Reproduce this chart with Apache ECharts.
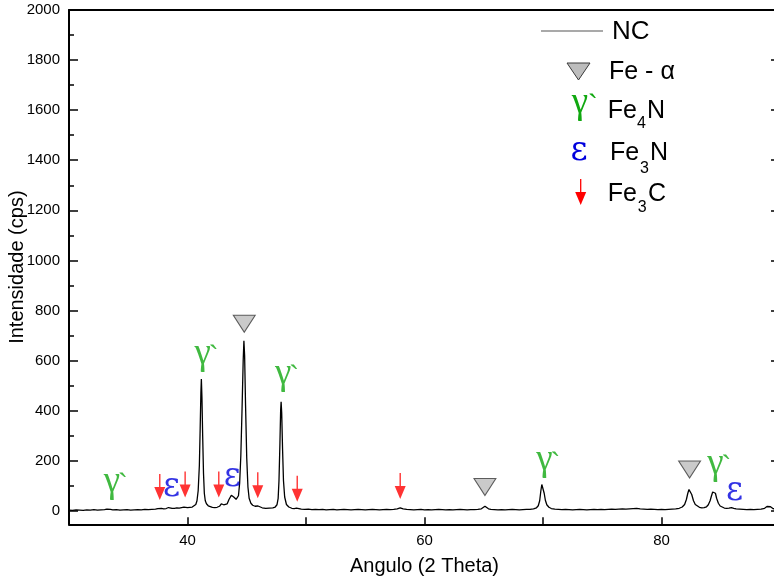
<!DOCTYPE html>
<html>
<head>
<meta charset="utf-8">
<script src="https://cdn.jsdelivr.net/npm/echarts@6/dist/echarts.min.js"></script>
<style>
html,body{margin:0;padding:0;background:#ffffff;}
#chart{width:774px;height:578px;}
</style>
</head>
<body>
<div id="chart"></div>
<script>
// ---- data ----
const twoTheta = [
30.0,30.3,30.6,30.9,31.2,31.5,31.8,32.1,32.4,32.7,33.0,33.2,33.35,33.5,33.7,34.0,34.3,34.6,34.9,35.2,35.5,35.8,36.1,36.4,36.7,37.0,37.3,37.5,37.65,37.8,38.0,38.2,38.4,38.55,38.7,38.9,39.1,39.3,39.5,39.7,39.85,40.0,40.2,40.4,40.55,40.7,40.8,40.9,41.0,41.07,41.13,41.17,41.22,41.28,41.35,41.42,41.5,41.6,41.75,41.9,42.1,42.3,42.5,42.7,42.85,42.95,43.05,43.2,43.35,43.5,43.6,43.7,43.8,43.9,44.0,44.1,44.2,44.3,44.4,44.5,44.6,44.7,44.76,44.82,44.9,45.0,45.1,45.2,45.35,45.5,45.7,45.85,45.95,46.1,46.3,46.6,46.9,47.2,47.4,47.55,47.65,47.72,47.8,47.86,47.9,47.95,48.02,48.1,48.2,48.35,48.55,48.8,49.0,49.2,49.35,49.6,49.9,50.2,50.5,50.8,51.1,51.4,51.7,52.0,52.3,52.6,52.9,53.2,53.5,53.8,54.1,54.4,54.7,55.0,55.3,55.6,55.9,56.2,56.5,56.8,57.1,57.4,57.7,57.95,58.2,58.5,58.8,59.1,59.4,59.7,60.0,60.3,60.6,60.9,61.2,61.5,61.8,62.1,62.4,62.7,63.0,63.3,63.6,63.9,64.2,64.5,64.8,64.95,65.1,65.25,65.4,65.6,65.9,66.2,66.5,66.8,67.1,67.4,67.7,68.0,68.3,68.6,68.9,69.2,69.45,69.6,69.72,69.82,69.9,69.96,70.02,70.1,70.2,70.32,70.5,70.7,71.0,71.3,71.6,71.9,72.2,72.5,72.8,73.1,73.4,73.7,74.0,74.3,74.6,74.9,75.2,75.5,75.8,76.1,76.4,76.7,77.0,77.3,77.6,77.9,78.2,78.5,78.8,79.1,79.4,79.7,80.0,80.3,80.6,80.9,81.2,81.5,81.75,81.95,82.1,82.22,82.32,82.38,82.45,82.55,82.7,82.85,83.0,83.2,83.4,83.6,83.8,83.95,84.1,84.22,84.32,84.4,84.47,84.55,84.65,84.8,84.95,85.1,85.3,85.5,85.7,85.9,86.1,86.3,86.6,86.9,87.2,87.5,87.8,88.1,88.4,88.7,88.9,89.05,89.2,89.4,89.7,90.0
];
const intensity = [
3,2,4,3,2,4,3,5,3,4,5,7,10,6,4,5,3,4,5,3,4,5,4,6,5,6,7,9,14,10,8,9,13,14,10,10,12,11,13,15,16,13,14,15,18,25,40,80,180,330,470,526,450,300,150,70,40,28,20,16,14,13,14,18,28,31,24,22,28,45,52,62,67,55,48,46,47,60,110,220,400,600,679,620,420,210,95,50,30,22,18,20,19,15,12,10,11,12,15,24,50,120,270,400,435,390,250,120,55,25,15,10,9,11,9,7,6,7,5,6,5,6,4,5,6,4,5,6,5,4,5,6,5,4,5,6,5,4,5,6,5,6,8,12,8,6,5,4,5,6,4,5,4,5,6,5,4,5,4,5,6,5,4,5,5,6,8,13,18,12,8,6,5,4,5,4,5,6,5,4,5,6,6,8,12,20,40,80,105,112,100,70,42,24,14,9,7,6,5,6,5,4,5,6,5,4,5,6,5,6,5,6,7,6,7,8,7,8,9,10,8,7,6,7,6,5,6,5,6,7,8,10,15,25,45,70,85,90,84,65,40,25,18,14,12,13,16,24,40,60,75,80,82,70,50,30,19,14,11,10,11,13,10,8,7,6,5,6,5,6,7,10,17,21,16,9,6,5
];
const seriesName = 'NC';
const xTickValues = [40, 50, 60, 70, 80];
const xLabelValues = [40, 60, 80];
const yMajorValues = [0, 200, 400, 600, 800, 1000, 1200, 1400, 1600, 1800, 2000];
const yMinorValues = [100, 300, 500, 700, 900, 1100, 1300, 1500, 1700, 1900];
const feAlphaMarks = [[44.79, 747], [65.1, 95], [82.37, 165]];
const gammaMarks = [[33.63, 91], [41.29, 602], [48.08, 522], [70.13, 176], [84.56, 163]];
const epsMarks = [[38.65, 81], [43.77, 123], [86.16, 67]];
const fe3cArrows = [[37.66, 43], [39.80, 53], [42.64, 53], [45.93, 50], [49.26, 36], [57.95, 47]];
const legendLabels = ['NC', 'Fe - α', 'Fe', '4', 'N', 'Fe', '3', 'N', 'Fe', '3', 'C'];

// ---- styles ----
const GREEN = '#10a810';
const BLUE = '#0000dd';
const RED = '#ff0000';
const TRI_FILL = '#bdbdbd';
const TRI_STROKE = '#3a3a3a';
const SANS = 'Liberation Sans, Arial, sans-serif';
const GREEK = 'Liberation Serif, serif';
const SERIF = 'DejaVu Serif, Liberation Serif, serif';
const ARROW = 'path://M4.8,0L6.2,0L6.2,13L11,13L5.5,26L0,13L4.8,13Z';

const chart = echarts.init(document.getElementById('chart'), null, {renderer: 'canvas'});

const yRange = {min: -54, max: 2000};
function yAxisBase(pos) {
  return {
    type: 'value', position: pos, min: yRange.min, max: yRange.max,
    splitLine: {show: false}
  };
}
const plainNum = v => String(v);

function textMarks(data, text, font, size, weight, color, offset) {
  return {
    type: 'scatter', data: data, symbol: 'circle', symbolSize: 1,
    itemStyle: {color: 'rgba(0,0,0,0)'}, silent: true, clip: false, z: 6,
    emphasis: {disabled: true},
    label: {
      show: true, position: 'inside', formatter: text, fontFamily: font, fontWeight: weight,
      fontSize: size, color: color, offset: offset, align: 'center', verticalAlign: 'middle'
    }
  };
}

const option = {
  animation: false,
  backgroundColor: '#ffffff',
  grid: {left: 69, right: -6, top: 10, bottom: 53.7, containLabel: false, outerBoundsMode: 'none'},
  xAxis: [
    {
      type: 'value', position: 'bottom', min: 30, max: 90,
      name: 'Angulo (2 Theta)', nameLocation: 'middle', nameGap: 32, nameMoveOverlap: false,
      nameTextStyle: {fontFamily: SANS, fontSize: 20, color: '#000'},
      axisLine: {show: true, onZero: false, lineStyle: {color: '#000', width: 2}},
      axisTick: {show: true, inside: true, length: 7, customValues: xTickValues, lineStyle: {color: '#000', width: 1.5}},
      axisLabel: {show: true, customValues: xLabelValues, formatter: plainNum, margin: 9, fontFamily: SANS, fontSize: 15, color: '#000'},
      splitLine: {show: false}
    },
    {
      type: 'value', position: 'top', min: 30, max: 90,
      axisLine: {show: true, onZero: false, lineStyle: {color: '#000', width: 2}},
      axisTick: {show: false}, axisLabel: {show: false}, splitLine: {show: false}
    }
  ],
  yAxis: [
    Object.assign(yAxisBase('left'), {
      name: 'Intensidade (cps)', nameLocation: 'middle', nameGap: 42, nameRotate: 90, nameMoveOverlap: false,
      nameTextStyle: {fontFamily: SANS, fontSize: 20, color: '#000'},
      axisLine: {show: true, onZero: false, lineStyle: {color: '#000', width: 2}},
      axisTick: {show: true, inside: true, length: 9, customValues: yMajorValues, lineStyle: {color: '#000', width: 1.5}},
      axisLabel: {show: true, customValues: yMajorValues, formatter: plainNum, margin: 9, fontFamily: SANS, fontSize: 15, color: '#000'}
    }),
    Object.assign(yAxisBase('left'), {
      axisLine: {show: false},
      axisTick: {show: true, inside: true, length: 5, customValues: yMinorValues, lineStyle: {color: '#000', width: 1.5}},
      axisLabel: {show: false}
    }),
    Object.assign(yAxisBase('right'), {
      axisLine: {show: true, onZero: false, lineStyle: {color: '#000', width: 2}},
      axisTick: {show: true, inside: true, length: 9, customValues: yMajorValues, lineStyle: {color: '#000', width: 1.5}},
      axisLabel: {show: false}
    })
  ],
  series: [
    {
      name: seriesName, type: 'line', xAxisIndex: 0, yAxisIndex: 0,
      data: twoTheta.map((x, i) => [x, intensity[i]]),
      showSymbol: false, symbol: 'none', smooth: false,
      lineStyle: {color: '#000', width: 1.3}, z: 3, silent: true
    },
    {
      type: 'scatter', data: feAlphaMarks, symbol: 'triangle', symbolRotate: 180,
      symbolSize: [22, 17], silent: true, clip: false, z: 5, emphasis: {disabled: true},
      itemStyle: {color: TRI_FILL, borderColor: TRI_STROKE, borderWidth: 1}
    },
    {
      type: 'scatter', data: fe3cArrows, symbol: ARROW, symbolSize: [11, 26],
      symbolOffset: [0, '-50%'], silent: true, clip: false, z: 5, emphasis: {disabled: true},
      itemStyle: {color: RED}
    },
    textMarks(gammaMarks, 'γ', GREEK, 37, 'normal', GREEN, [0, -6]),
    textMarks(gammaMarks, '`', SANS, 30, 'normal', GREEN, [11, -2]),
    textMarks(epsMarks, 'ε', SERIF, 33, 'normal', BLUE, [0, -3])
  ],
  graphic: [
    {type: 'line', shape: {x1: 541, y1: 31, x2: 603, y2: 31}, style: {stroke: '#555', lineWidth: 1.2}, silent: true},
    {type: 'text', x: 612, y: 32, style: {text: legendLabels[0], fontFamily: SANS, fontSize: 26, fill: '#000', align: 'left', verticalAlign: 'middle'}},
    {type: 'polygon', shape: {points: [[567, 63], [590, 63], [578.5, 80]]}, style: {fill: TRI_FILL, stroke: TRI_STROKE, lineWidth: 1}},
    {type: 'text', x: 609, y: 72, style: {text: legendLabels[1], fontFamily: SANS, fontSize: 25, fill: '#000', align: 'left', verticalAlign: 'middle'}},
    {type: 'text', x: 580, y: 103, style: {text: 'γ', fontFamily: GREEK, fontSize: 37, fill: GREEN, align: 'center', verticalAlign: 'middle'}},
    {type: 'text', x: 593, y: 107, style: {text: '`', fontFamily: SANS, fontSize: 30, fill: GREEN, align: 'center', verticalAlign: 'middle'}},
    {type: 'text', x: 607.7, y: 111.2, style: {text: legendLabels[2], fontFamily: SANS, fontSize: 25, fill: '#000', align: 'left', verticalAlign: 'middle'}},
    {type: 'text', x: 637, y: 124, style: {text: legendLabels[3], fontFamily: SANS, fontSize: 16, fill: '#000', align: 'left', verticalAlign: 'middle'}},
    {type: 'text', x: 647, y: 111.2, style: {text: legendLabels[4], fontFamily: SANS, fontSize: 25, fill: '#000', align: 'left', verticalAlign: 'middle'}},
    {type: 'text', x: 579, y: 151, style: {text: 'ε', fontFamily: SERIF, fontSize: 33, fill: BLUE, align: 'center', verticalAlign: 'middle'}},
    {type: 'text', x: 610, y: 153, style: {text: legendLabels[5], fontFamily: SANS, fontSize: 25, fill: '#000', align: 'left', verticalAlign: 'middle'}},
    {type: 'text', x: 640, y: 168.3, style: {text: legendLabels[6], fontFamily: SANS, fontSize: 16, fill: '#000', align: 'left', verticalAlign: 'middle'}},
    {type: 'text', x: 650, y: 153, style: {text: legendLabels[7], fontFamily: SANS, fontSize: 25, fill: '#000', align: 'left', verticalAlign: 'middle'}},
    {type: 'line', shape: {x1: 580.7, y1: 179, x2: 580.7, y2: 193}, style: {stroke: RED, lineWidth: 1.3}},
    {type: 'polygon', shape: {points: [[575.2, 192], [586.2, 192], [580.7, 205]]}, style: {fill: RED}},
    {type: 'text', x: 607.7, y: 193.7, style: {text: legendLabels[8], fontFamily: SANS, fontSize: 25, fill: '#000', align: 'left', verticalAlign: 'middle'}},
    {type: 'text', x: 637.7, y: 208, style: {text: legendLabels[9], fontFamily: SANS, fontSize: 16, fill: '#000', align: 'left', verticalAlign: 'middle'}},
    {type: 'text', x: 648, y: 193.7, style: {text: legendLabels[10], fontFamily: SANS, fontSize: 25, fill: '#000', align: 'left', verticalAlign: 'middle'}}
  ]
};
chart.setOption(option);
</script>
</body>
</html>
